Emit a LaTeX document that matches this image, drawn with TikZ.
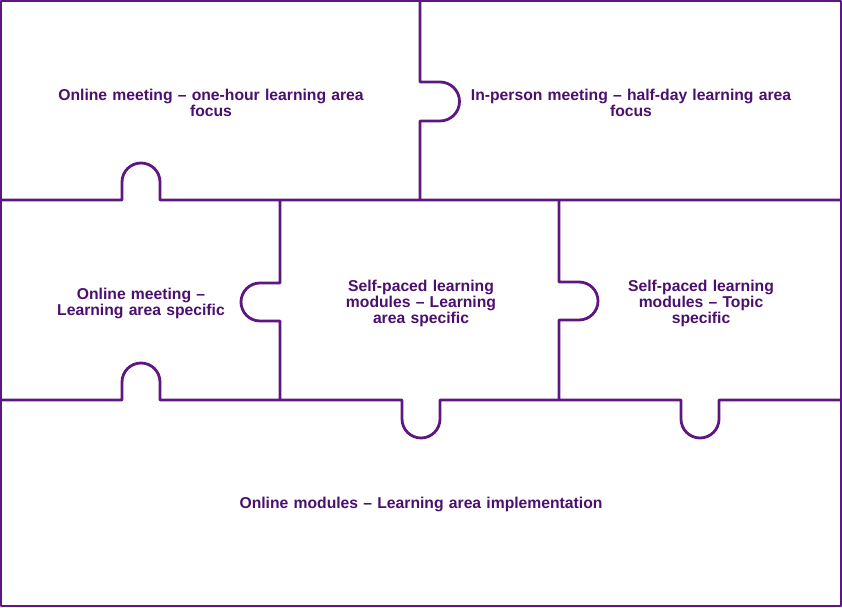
\documentclass[tikz,border=0pt]{standalone}
\usepackage{fontspec}
\setmainfont{Liberation Sans}
\definecolor{edge}{HTML}{5E1780}
\definecolor{txt}{HTML}{4B0F6E}
\begin{document}
\begin{tikzpicture}[x=1pt,y=1pt,
  piece/.style={draw=edge,line width=2.8pt,line join=round},
  lbl/.style={text=txt,font=\bfseries\fontsize{15.7}{16}\selectfont,align=center,inner sep=0pt}]
\useasboundingbox (0,0) rectangle (842,607);
\fill[white] (0,0) rectangle (842,607);
\draw[piece] (1,1) rectangle (841,606);
% y=200 line
\draw[piece] (1,407)--(122,407)--(122,425) arc[start angle=180,end angle=0,radius=19]--(160,407)--(841,407);
% x=420
\draw[piece] (420,407)--(420,486)--(440,486) arc[start angle=-90,end angle=90,radius=19.5]--(420,525)--(420,606);
% y=400 line
\draw[piece] (1,207)--(122,207)--(122,225) arc[start angle=180,end angle=0,radius=19]--(160,207)
  --(402,207)--(402,188) arc[start angle=180,end angle=360,radius=19]--(440,207)
  --(681,207)--(681,188) arc[start angle=180,end angle=360,radius=19]--(719,207)--(841,207);
% x=280
\draw[piece] (280,207)--(280,286)--(260,286) arc[start angle=270,end angle=90,radius=19]--(280,324)--(280,407);
% x=559
\draw[piece] (559,207)--(559,287)--(579,287) arc[start angle=-90,end angle=90,radius=19]--(559,325)--(559,407);
\node[lbl,text width=330pt] (a) at (211,504) {Online meeting -- one-hour learning area\\focus};
\node[lbl,text width=340pt] (b) at (631,504) {In-person meeting -- half-day learning area\\focus};
\node[lbl,text width=180pt] (c) at (141,304) {Online meeting --\\Learning area specific};
\node[lbl,text width=170pt] (d) at (421,304) {Self-paced learning\\modules -- Learning\\area specific};
\node[lbl,text width=170pt] (e) at (701,304) {Self-paced learning\\modules -- Topic\\specific};
\node[lbl,text width=420pt] (f) at (421,103) {Online modules -- Learning area implementation};
\end{tikzpicture}
\end{document}
